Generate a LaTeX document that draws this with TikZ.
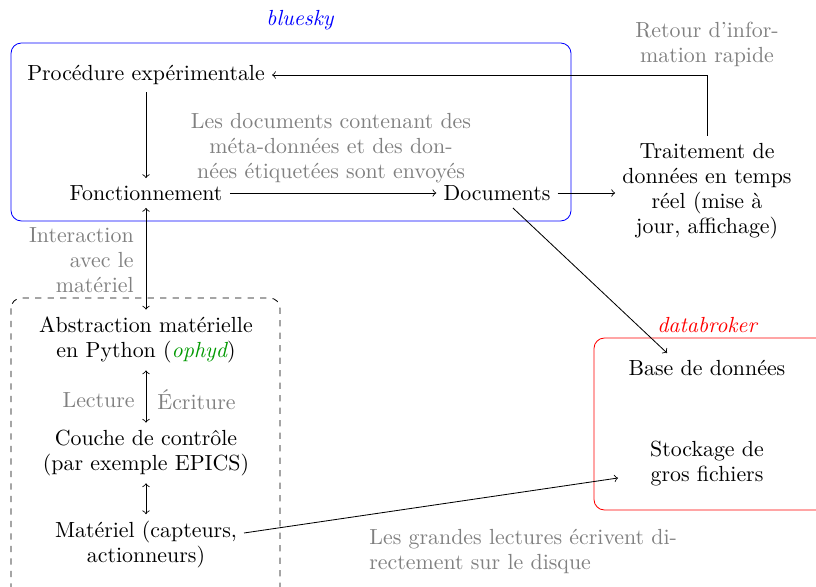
\documentclass[tikz,border=0pt]{standalone}
\usepackage{tikz}

\begin{document}
\begin{tikzpicture}[->,x=0.48pt,y=-0.48pt,font=\fontsize{10.5}{12}\selectfont]
\useasboundingbox (0,0) rectangle (816,587);
\tikzset{note/.style={text=gray,align=center},
         box/.style={-,rounded corners=5pt}}

% frames
\draw[box,blue] (11,43) rectangle (571,221);
\draw[box,dashed] (11,298) rectangle (280,600);
\draw[box,red] (594,338) rectangle (830,510);
\node[blue] (bluesky) at (300,20) {\itshape bluesky};
\node[red] (databroker) at (707,325) {\itshape databroker};

% nodes
\node (proc) at (146,75) {Procédure expérimentale};
\node (fonct) at (146,193) {Fonctionnement};
\node (docs) at (497,193) {Documents};
\node[align=center] (trait) at (707,191) {Traitement de\\données en temps\\réel (mise à\\jour, affichage)};
\node[align=center] (abstr) at (146,340) {Abstraction matérielle\\en Python ({\color{green!60!black}\itshape ophyd})};
\node[align=center] (couche) at (146,453) {Couche de contrôle\\(par exemple EPICS)};
\node[align=center] (mat) at (146,545) {Matériel (capteurs,\\actionneurs)};
\node (base) at (707,368) {Base de données};
\node[align=center] (stock) at (707,464) {Stockage de\\gros fichiers};

% notes
\node[note] (envoi) at (331,148) {Les documents contenant des\\méta-données et des don-\\nées étiquetées sont envoyés};
\node[note] (retour) at (707,44) {Retour d'infor-\\mation rapide};
\node[note,align=right,anchor=east] (inter) at (141,260) {Interaction\\avec le\\matériel};
\node[note,anchor=east] (lect) at (142,400) {Lecture};
\node[note,anchor=west] (ecri) at (150,400) {Écriture};
\node[note,align=left,anchor=north west] (disque) at (362,522) {Les grandes lectures écrivent di-\\rectement sur le disque};

\coordinate (dbin) at (667,353);
\coordinate (matout) at (244,533);
\coordinate (stockin) at (618,478);

% arrows
\draw (proc) -- (fonct);
\draw (fonct) -- (docs);
\draw (docs) -- (docs -| trait.west);
\draw (trait.north) |- (proc.east);
\draw (docs) -- (dbin);
\draw[<->] (fonct) -- (abstr);
\draw[<->] (abstr) -- (couche);
\draw[<->] (couche) -- (mat);
\draw (matout) -- (stockin);
\end{tikzpicture}
\end{document}
